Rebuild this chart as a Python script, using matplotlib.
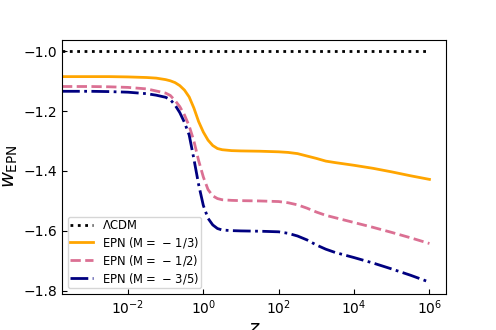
import numpy as np
import matplotlib
matplotlib.use("Agg")
import matplotlib.pyplot as plt

# log10(z) sample points
logz = [-3.75, -3, -2.5, -2, -1.5, -1.25, -1.0, -0.875, -0.75, -0.625, -0.5,
        -0.375, -0.25, -0.125, 0, 0.125, 0.25, 0.375, 0.5, 0.75, 1.0, 1.5,
        2.0, 2.25, 2.5, 2.75, 3.0, 3.25, 3.5, 4.0, 4.5, 5.0, 5.5, 6.0]

w_m13 = [-1.085, -1.085, -1.085, -1.086, -1.088, -1.090, -1.095, -1.099, -1.105,
         -1.115, -1.13, -1.153, -1.19, -1.235, -1.27, -1.297, -1.315, -1.325,
         -1.329, -1.332, -1.333, -1.334, -1.336, -1.338, -1.342, -1.350, -1.358,
         -1.367, -1.372, -1.381, -1.391, -1.403, -1.416, -1.428]
w_m12 = [-1.118, -1.118, -1.119, -1.121, -1.126, -1.133, -1.14, -1.148, -1.165,
         -1.185, -1.213, -1.25, -1.30, -1.365, -1.42, -1.462, -1.483, -1.492,
         -1.496, -1.498, -1.499, -1.5, -1.502, -1.506, -1.513, -1.524, -1.537,
         -1.548, -1.556, -1.572, -1.588, -1.605, -1.623, -1.642]
w_m35 = [-1.134, -1.134, -1.135, -1.137, -1.142, -1.147, -1.154, -1.162, -1.18,
         -1.205, -1.238, -1.28, -1.36, -1.445, -1.515, -1.558, -1.58, -1.592,
         -1.597, -1.599, -1.6, -1.601, -1.603, -1.608, -1.617, -1.63, -1.647,
         -1.661, -1.672, -1.689, -1.707, -1.727, -1.748, -1.771]

z = 10.0 ** np.array(logz)

fig, ax = plt.subplots(figsize=(4.96, 3.30), dpi=100)

ax.plot(z, -np.ones_like(z), ':', color='black', lw=2, label=r'$\Lambda$CDM')
ax.plot(z, w_m13, '-', color='orange', lw=2, label=r'EPN ($\mathrm{M}=\,-\,1/3$)')
ax.plot(z, w_m12, '--', color='palevioletred', lw=2, label=r'EPN ($\mathrm{M}=\,-\,1/2$)')
ax.plot(z, w_m35, '-.', color='navy', lw=2, label=r'EPN ($\mathrm{M}=\,-\,3/5$)')

ax.set_xscale('log')
ax.set_xlim(10 ** -3.75, 10 ** 6.45)
ax.set_xticks([1e-2, 1e0, 1e2, 1e4, 1e6])
ax.minorticks_off()
ax.set_yticks([-1.8, -1.6, -1.4, -1.2, -1.0])
ax.tick_params(direction='in', labelsize=10)

ax.set_xlabel(r'$z$', fontsize=14, labelpad=1)
ax.set_ylabel(r'$w_{\rm EPN}$', fontsize=14)
ax.yaxis.set_label_coords(-0.108, 0.5)
ax.legend(loc='lower left', fontsize=8.3, labelspacing=0.25, borderpad=0.2)

fig.savefig('out.png', dpi=100)
